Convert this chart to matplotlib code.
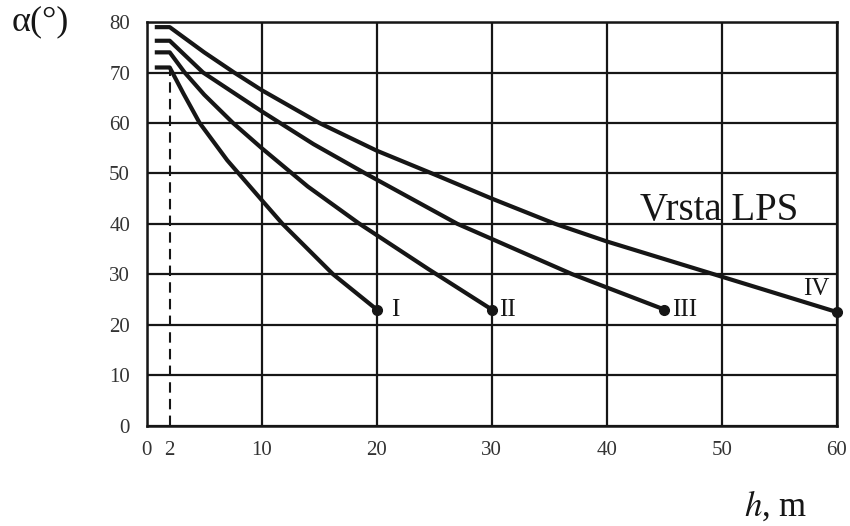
import matplotlib
matplotlib.use("Agg")
import matplotlib.pyplot as plt

plt.rcParams["font.family"] = ["Liberation Serif", "DejaVu Serif"]
plt.rcParams["mathtext.fontset"] = "stix"

# protective angle curves (h in m, alpha in degrees)
h_I = [0.7, 2, 3.2, 4.6, 7, 10, 11.8, 16.2, 20]
a_I = [71, 71, 65.8, 60, 52.6, 44.7, 40, 30, 23]
h_II = [0.7, 2, 3.3, 5, 7.5, 10, 14, 18.5, 24.5, 30]
a_II = [74, 74, 70, 65.6, 60, 55, 47.4, 40, 31, 23]
h_III = [0.7, 2, 4.9, 10, 14.5, 19, 27, 37, 45]
a_III = [76.3, 76.3, 70, 62.3, 55.8, 50, 40, 30, 23]
h_IV = [0.7, 2, 5, 7.6, 10, 15, 20, 25, 30, 35.5, 40, 49.3, 60]
a_IV = [79, 79, 74, 70, 66.5, 60, 54.5, 49.8, 45, 40, 36.5, 30, 22.5]

classes = ["I", "II", "III", "IV"]
curves = [(h_I, a_I), (h_II, a_II), (h_III, a_III), (h_IV, a_IV)]
label_pos = [(21.6, 23), (31.4, 23), (46.8, 23), (58.2, 27)]

x_ticks = [0, 10, 20, 30, 40, 50, 60]
y_ticks = [0, 10, 20, 30, 40, 50, 60, 70, 80]

fig = plt.figure(figsize=(8.5, 5.26), dpi=100)
ax = fig.add_axes([0.1726, 0.191, 0.812, 0.767])
ink = "#161616"

ax.set_xlim(0, 60)
ax.set_ylim(0, 80)
ax.set_xticks(x_ticks)
ax.set_xticks([2], minor=True)
ax.set_xticklabels([str(v) for v in x_ticks], fontsize=15)
ax.set_xticklabels(["2"], minor=True, fontsize=15)
ax.set_yticks(y_ticks)
ax.set_yticklabels([str(v) for v in y_ticks], fontsize=15)
ax.tick_params(which="both", length=0, colors="#333333")
ax.tick_params(axis="x", which="both", pad=11)
ax.tick_params(axis="y", pad=12)
ax.grid(True, which="major", color=ink, lw=1.6)
for s in ax.spines.values():
    s.set_color(ink)
    s.set_linewidth(1.8)

# dashed marker at h = 2 m
ax.plot([2, 2], [0, a_I[1]], color=ink, lw=1.5, ls=(0, (5, 3)))

for name, (h, a), (lx, ly) in zip(classes, curves, label_pos):
    ax.plot(h, a, color=ink, lw=3, solid_capstyle="butt", solid_joinstyle="round")
    ax.plot(h[-1], a[-1], "o", color=ink, ms=7, clip_on=False, zorder=5)
    ax.text(lx, ly, name, fontsize=18, ha="center", va="center", color=ink)

ax.text(49.8, 42.7, "Vrsta LPS", fontsize=28, ha="center", va="center", color=ink)

fig.text(0.047, 0.958, "α(°)", fontsize=26, ha="center", va="center", color=ink)
fig.text(0.912, 0.038, r"$h$, m", fontsize=25, ha="center", va="center", color=ink)

fig.savefig("out.png", dpi=100, facecolor="white")
